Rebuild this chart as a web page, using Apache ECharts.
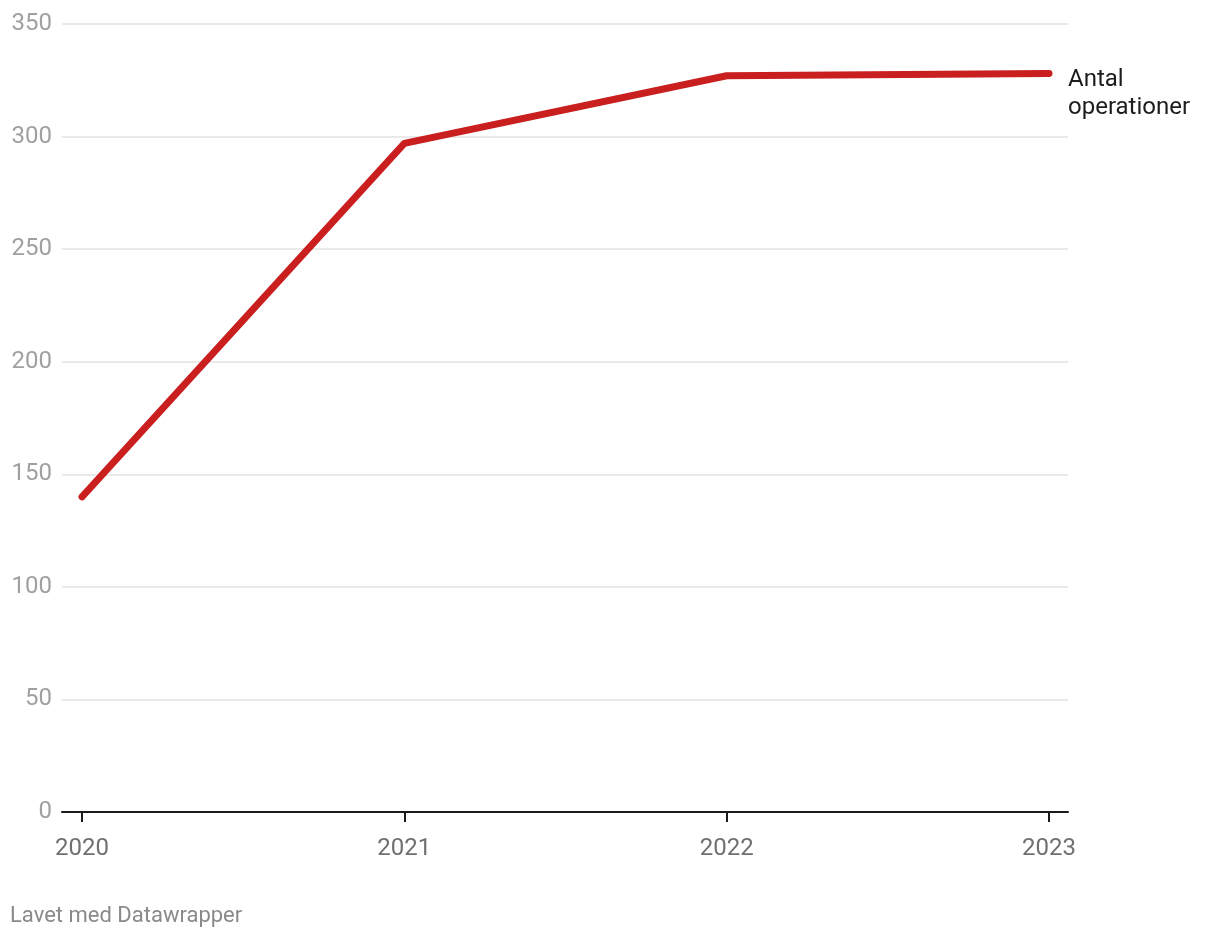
<!DOCTYPE html>
<html>
<head>
<meta charset="utf-8">
<script src="https://cdn.jsdelivr.net/npm/echarts@6/dist/echarts.min.js"></script>
<style>html,body{margin:0;padding:0;background:#fff;}#c{width:1220px;height:938px;}</style>
</head>
<body>
<div id="c"></div>
<script>
const categories = ['2020', '2021', '2022', '2023'];
const operations = [140, 297, 327, 328];
const seriesName = 'Antal\noperationer';
const yTicks = [0, 50, 100, 150, 200, 250, 300, 350];

const chart = echarts.init(document.getElementById('c'));
const font = 'Roboto, sans-serif';
chart.setOption({
  animation: false,
  textStyle: { fontFamily: font },
  title: {
    text: 'Lavet med Datawrapper', left: 5, top: 900,
    textStyle: { fontSize: 22, fontWeight: 'normal', color: '#8a8a8a', fontFamily: font }
  },
  grid: [
    { left: 62, right: 152, top: 24, bottom: 126 },
    { left: 82, right: 171, top: 24, bottom: 126 }
  ],
  xAxis: [
    { gridIndex: 0, type: 'value', min: 0, max: 1, axisLabel: { show: false }, axisTick: { show: false }, splitLine: { show: false },
      axisLine: { show: true, onZero: false, lineStyle: { color: '#1a1a1a', width: 2 } } },
    { gridIndex: 1, type: 'category', data: categories, boundaryGap: false,
      axisLine: { show: false, onZero: false },
      axisTick: { show: true, length: 10, alignWithLabel: true, lineStyle: { color: '#1a1a1a', width: 2 } },
      axisLabel: { color: '#707070', fontSize: 24, margin: 25, fontFamily: font },
      splitLine: { show: false } }
  ],
  yAxis: [
    { gridIndex: 0, type: 'value', min: yTicks[0], max: yTicks[yTicks.length - 1], interval: 50,
      axisLine: { show: false }, axisTick: { show: false },
      axisLabel: { color: '#a0a0a0', fontSize: 24, margin: 10, fontFamily: font, padding: [3, 0, 0, 0] },
      splitLine: { show: true, lineStyle: { color: '#e3e3e3', width: 1.5 } } },
    { gridIndex: 1, type: 'value', min: yTicks[0], max: yTicks[yTicks.length - 1], interval: 50, show: false, splitLine: { show: false } }
  ],
  series: [{
    type: 'line', xAxisIndex: 1, yAxisIndex: 1, data: operations,
    symbol: 'none',
    lineStyle: { color: '#c91f1f', width: 7, cap: 'round', join: 'round' },
    endLabel: { show: true, formatter: seriesName, color: '#1d1d1d', fontSize: 24, lineHeight: 28,
      distance: 19, offset: [0, 20], align: 'left', fontFamily: font }
  }]
});
</script>
</body>
</html>
